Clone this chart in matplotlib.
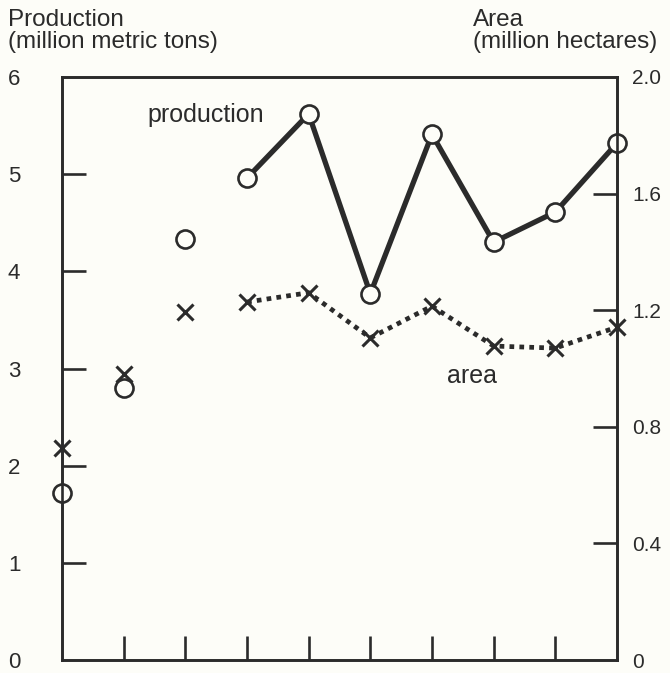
import numpy as np
import matplotlib
matplotlib.use("Agg")
from matplotlib import pyplot as plt

plt.rcParams['font.family'] = ['Liberation Sans', 'DejaVu Sans']

# years are index positions 0..9 (no labels on the x axis)
years = np.arange(10)
production = [1.72, 2.80, 4.33, 4.96, 5.62, 3.77, 5.41, 4.30, 4.61, 5.32]   # million metric tons
area = [0.727, 0.981, 1.194, 1.228, 1.26, 1.105, 1.214, 1.077, 1.07, 1.142]  # million hectares
left_ticks = [0, 1, 2, 3, 4, 5, 6]
right_ticks = [0, 0.4, 0.8, 1.2, 1.6, 2.0]
right_labels = ["0", "0.4", "0.8", "1.2", "1.6", "2.0"]

bg = "#fdfdf8"
ink = "#2b2b2b"

fig = plt.figure(figsize=(6.70, 6.73), dpi=100, facecolor=bg)
ax = fig.add_axes([0.0925, 0.0193, 0.8284, 0.8663])
ax.set_facecolor(bg)
ax2 = ax.twinx()

ax.set_xlim(0, 9)
ax.set_ylim(0, 6)
ax2.set_ylim(0, 2.0)

# production: open circles, solid line from 4th point on
ax.plot(years[3:], production[3:], color=ink, lw=3.8, solid_capstyle="round", zorder=3)
ax.plot(years, production, ls="none", marker="o", ms=13, mfc=bg, mec=ink, mew=1.9,
        clip_on=False, zorder=4)

# area: crosses, dotted line from 4th point on
ax2.plot(years[3:], area[3:], color=ink, lw=3.4, ls=(0, (1.0, 1.1)), zorder=3)
ax2.plot(years, area, ls="none", marker="x", ms=11, mec=ink, mew=2.2,
         clip_on=False, zorder=4)

for a in (ax, ax2):
    for s in a.spines.values():
        s.set_color(ink)
        s.set_linewidth(1.9)

ax.set_yticks(left_ticks)
ax.set_yticklabels([str(t) for t in left_ticks])
ax.tick_params(axis="y", direction="in", length=17, width=1.9, color=ink,
               labelsize=16, pad=30, labelcolor=ink)
ax.set_xticks(years[1:-1])
ax.set_xticklabels([])
ax.tick_params(axis="x", direction="in", length=17, width=1.9, color=ink)

ax2.set_yticks(right_ticks)
ax2.set_yticklabels(right_labels)
ax2.tick_params(axis="y", direction="in", length=17, width=1.9, color=ink,
                labelsize=15, pad=11, labelcolor=ink)

# hide the end ticks that sit on the corners
ax.yaxis.get_major_ticks()[0].tick1line.set_visible(False)
ax.yaxis.get_major_ticks()[-1].tick1line.set_visible(False)
ax2.yaxis.get_major_ticks()[0].tick2line.set_visible(False)
ax2.yaxis.get_major_ticks()[-1].tick2line.set_visible(False)

# axis headings
fig.text(8 / 670, 1 - 26 / 673, "Production", fontsize=17.5, color=ink, va="baseline")
fig.text(8 / 670, 1 - 48 / 673, "(million metric tons)", fontsize=17.5, color=ink, va="baseline")
fig.text(473 / 670, 1 - 26 / 673, "Area", fontsize=17.5, color=ink, va="baseline")
fig.text(473 / 670, 1 - 48 / 673, "(million hectares)", fontsize=17.5, color=ink, va="baseline")

# series labels
ax.text(1.39, 5.535, "production", fontsize=18, color=ink, va="baseline")
ax.text(6.25, 2.85, "area", fontsize=18, color=ink, va="baseline")

fig.savefig("out.png", dpi=100, facecolor=bg)
